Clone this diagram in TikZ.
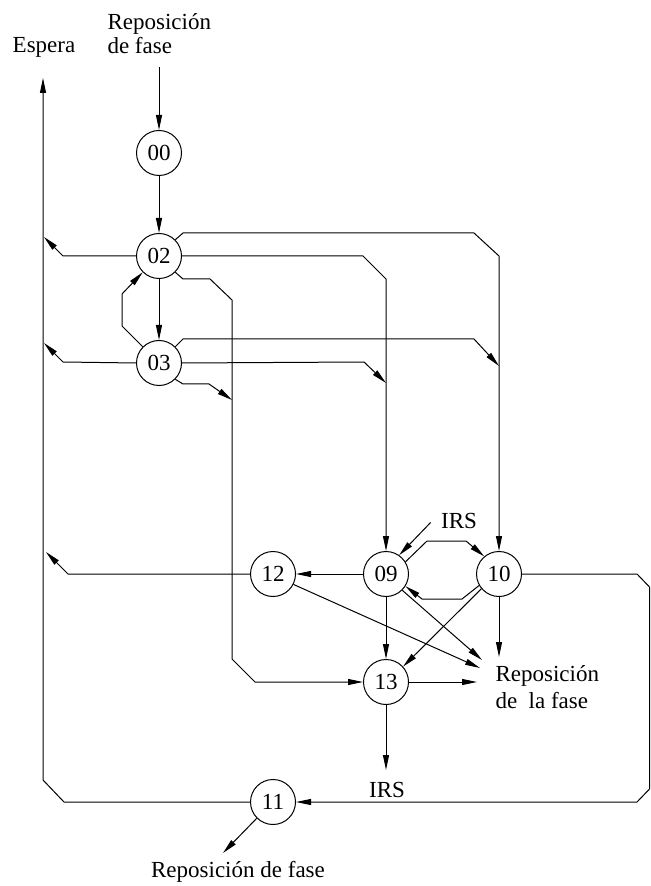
\documentclass[tikz,border=0pt]{standalone}
\usepackage{fontspec}
\setmainfont{Liberation Serif}
\usetikzlibrary{arrows.meta,positioning}

\begin{document}
\begin{tikzpicture}[x=0.5pt,y=-0.5pt,node distance=56.5pt,>={Triangle[length=7.5pt,width=3pt]},line width=0.5pt,
    every node/.style={font=\fontsize{11.5}{13.5}\selectfont},
    state/.style={draw, circle, minimum size=22.5pt, inner sep=0pt}]
        \useasboundingbox (0,0) rectangle (650,886);

        \node (n00) [state] at (159,153) {00};
        \node (n02) [state, below of=n00, yshift=5pt] {02};
        \node (n03) [state, below of=n02, yshift=3pt] {03};
        \node (n09) [state] at (386,574) {09};
        \node (n12) [state, left of=n09] {12};
        \node (n10) [state, right of=n09] {10};
        \node (n13) [state, below of=n09, yshift=2.5pt] {13};
        \node (n11) [state, node distance=114pt, below of=n12] {11};

        \node (espera) [inner sep=0pt] at (44,47) {Espera};
        \node (rep1) [align=left, anchor=north west, inner sep=0pt] at (107,13) {Reposición\\[-1.5pt]de fase};
        \node (rep2) [align=left, anchor=north west, inner sep=0pt] at (495,665) {Reposición\\de~ la fase};
        \node (rep3) [anchor=base, inner sep=0pt] at (238,877) {Reposición de fase};
        \node (irs1) [anchor=base, inner sep=0pt] at (459,528) {IRS};
        \node (irs2) [anchor=base, inner sep=0pt] at (387,797) {IRS};

        \coordinate (in00) at (159,67);
        \coordinate (esp) at (43,78);
        \coordinate (w02) at (44,237);
        \coordinate (w03) at (44,343);
        \coordinate (w12) at (46,552);
        \coordinate (j09) at (386,383);
        \coordinate (j10) at (499,366);
        \coordinate (j13) at (232,400);
        \coordinate (r09) at (482,660);
        \coordinate (r12) at (480,668);
        \coordinate (r10) at (499,657);
        \coordinate (r13) at (477,682);
        \coordinate (o13) at (386,770);
        \coordinate (o11) at (223,853);

        \draw[->] (in00) -- (n00);
        \draw[->] (n00) -- (n02);
        \draw[->] (n02) -- (n03);
        \draw[->] (n03.135) -- (122,326) -- (122,294) -- (n02.225);
        \draw[->] (n02.west) -- (63,256) -- (w02);
        \draw[->] (n03.west) -- (63,362) -- (w03);

        \draw[->] (n02.45) -- (183,233) -- (474,233) -- (499,256) -- (n10);
        \draw[->] (n02.east) -- (363,256) -- (386,279) -- (n09);
        \draw[->] (n02.-45) -- (183,279) -- (210,279) -- (232,300) -- (232,659) -- (255,682) -- (n13);
        \draw[->] (n03.45) -- (183,339) -- (474,339) -- (j10);
        \draw[->] (n03.east) -- (364,362) -- (j09);
        \draw[->] (n03.-45) -- (183,384) -- (209,384) -- (j13);

        \draw[->] ([xshift=-5pt,yshift=-1pt]irs1.west) -- (n09.55);
        \draw[->] (n09) -- (n12);
        \draw[->] (n09) -- (n13);
        \draw[->] (n12.west) -- (68,574) -- (w12);
        \draw[->] (n09.32) -- (427,541) -- (466,541) -- (n10.130);
        \draw[->] (n10.210) -- (462,599) -- (422,599) -- (n09.-32);
        \draw[->] (n10.220) -- (n13.42);
        \draw[->] (n09.-45) -- (r09);
        \draw[->] (n12.-27) -- (r12);
        \draw[->] (n10) -- (r10);
        \draw[->] (n13) -- (r13);
        \draw[->] (n13) -- (o13);

        \draw[->] (n10.east) -- (637,574) -- (649.5,587) -- (649.5,789) -- (637,802) -- (n11);
        \draw[->] (n11.west) -- (64,802) -- (43,780) -- (esp);
        \draw[->] (n11.225) -- (o11);
    \end{tikzpicture}
\end{document}
